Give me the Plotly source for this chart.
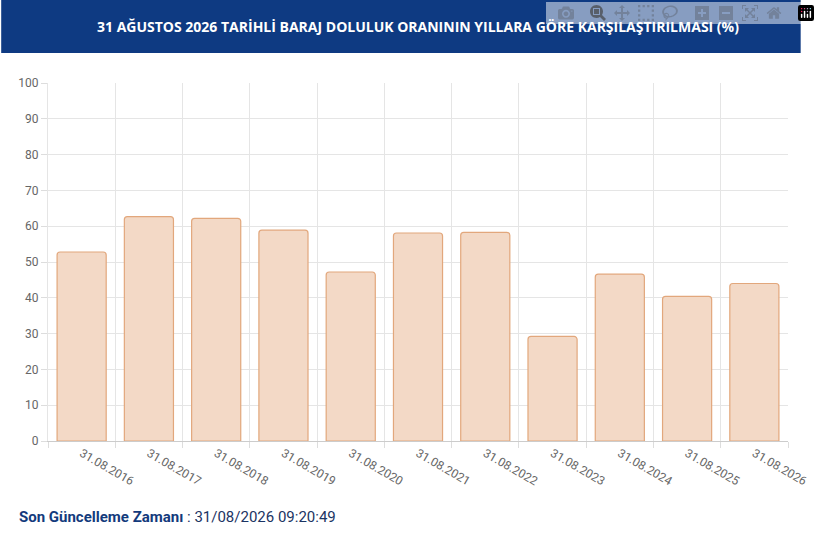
import plotly.graph_objects as go

dates = ["31.08.2016", "31.08.2017", "31.08.2018", "31.08.2019", "31.08.2020",
         "31.08.2021", "31.08.2022", "31.08.2023", "31.08.2024", "31.08.2025",
         "31.08.2026"]
rates = [52.8, 62.7, 62.2, 58.9, 47.2, 58.1, 58.3, 29.2, 46.6, 40.4, 44.0]

title = "31 AĞUSTOS 2026 TARİHLİ BARAJ DOLULUK ORANININ YILLARA GÖRE KARŞILAŞTIRILMASI (%)"
updated = "31/08/2026 09:20:49"

fig = go.Figure()
fig.add_trace(go.Bar(
    x=dates, y=rates,
    marker=dict(color="#f3d9c6", line=dict(color="#e2a77c", width=1.2), cornerradius=3),
    hoverinfo="x+y",
))

fig.update_layout(
    width=820, height=539,
    margin=dict(l=48, r=13, t=83, b=98),
    paper_bgcolor="white", plot_bgcolor="white",
    bargap=0.27, showlegend=False,
    font=dict(family="Roboto", color="#666666", size=12),
    annotations=[
        dict(text="<b>" + title + "</b>", xref="paper", yref="paper", x=0.5, xanchor="center",
             y=1.0, yshift=57, yanchor="middle", showarrow=False,
             font=dict(family="Open Sans", size=14, color="white")),
        dict(text="<span style='color:#133a7c'><b>Son Güncelleme Zamanı</b></span> : " + updated,
             xref="paper", yref="paper", x=-32 / 759, xanchor="left", y=0, yshift=-76,
             yanchor="middle", showarrow=False,
             font=dict(family="Roboto", size=15, color="#1b3463")),
    ],
)
# header band
fig.add_shape(type="rect", xref="paper", yref="paper", x0=-48 / 759, x1=1 + 13 / 759,
              y0=1.0 + 30 / 358, y1=1.0 + 83 / 358, fillcolor="#0e3a82", line_width=0)

fig.update_xaxes(type="category", tickson="boundaries", showgrid=True, gridcolor="#e5e5e5",
                 ticks="outside", ticklen=6, tickcolor="#dddddd", showline=True,
                 linecolor="#cccccc", tickfont=dict(size=12, color="#666666"))
fig.update_yaxes(range=[0, 100], dtick=10, showgrid=True, gridcolor="#e5e5e5",
                 ticks="outside", ticklen=6, tickcolor="#dddddd", zeroline=False,
                 showline=True, linecolor="#e5e5e5", tickfont=dict(size=12, color="#666666"))

fig.write_html("out.html", post_script="document.body.style.margin='0';")
